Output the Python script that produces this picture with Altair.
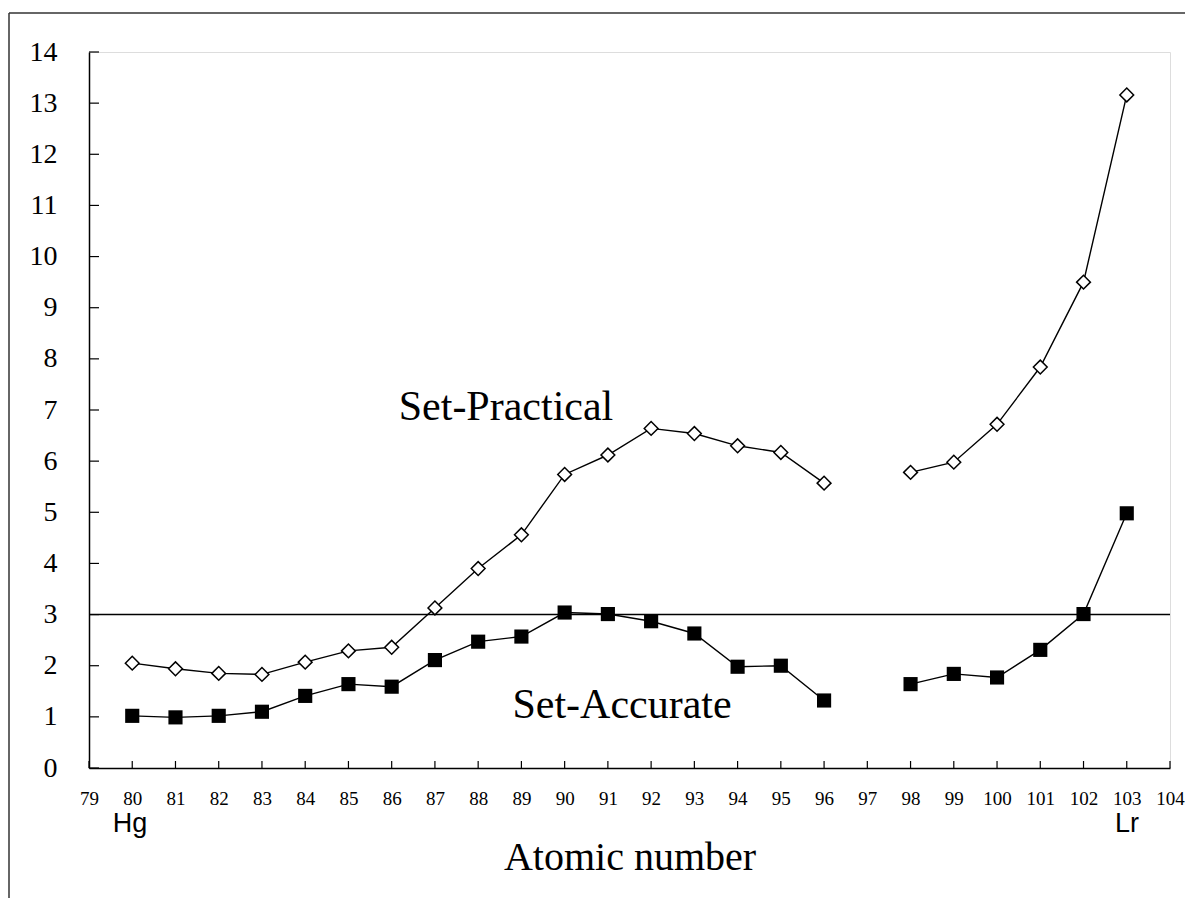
import altair as alt
import pandas as pd

# ---- data ----
atomic_number = [80, 81, 82, 83, 84, 85, 86, 87, 88, 89, 90, 91, 92, 93, 94, 95, 96,
                 98, 99, 100, 101, 102, 103]
set_practical = [2.05, 1.94, 1.85, 1.83, 2.07, 2.29, 2.36, 3.13, 3.90, 4.56, 5.74, 6.12,
                 6.64, 6.54, 6.30, 6.17, 5.57, 5.78, 5.98, 6.72, 7.84, 9.50, 13.16]
set_accurate = [1.02, 0.99, 1.02, 1.10, 1.41, 1.64, 1.59, 2.11, 2.47, 2.57, 3.04, 3.01,
                2.87, 2.63, 1.98, 2.00, 1.32, 1.64, 1.84, 1.77, 2.31, 3.01, 4.98]
x_tick_values = list(range(79, 105))
y_tick_values = list(range(0, 15))
reference_line = [3]
series_labels = ["Set-Practical", "Set-Accurate"]
element_labels = ["Hg", "Lr"]
axis_title = "Atomic number"

rows = []
for n, p, a in zip(atomic_number, set_practical, set_accurate):
    seg = "a" if n < 97 else "b"
    rows.append({"n": n, "series": "Set-Practical", "value": p, "key": "P" + seg})
    rows.append({"n": n, "series": "Set-Accurate", "value": a, "key": "A" + seg})
df = pd.DataFrame(rows)

W, H = 1081, 716
SERIF = "Liberation Serif"
SANS = "Liberation Sans"

xs = alt.Scale(domain=[79, 104], nice=False, zero=False)
ys = alt.Scale(domain=[0, 14], nice=False)

x_axis = alt.Axis(values=x_tick_values, format="d", ticks=False, grid=False,
                  labelFont=SERIF, labelFontSize=19, labelColor="black",
                  labelPadding=21, labelOverlap=False, labelFlush=False,
                  domainColor="black", domainWidth=1.5, title=None)
y_axis = alt.Axis(values=y_tick_values, format="d", ticks=False, grid=False,
                  labelFont=SERIF, labelFontSize=28, labelColor="black",
                  labelPadding=32, labelOverlap=False, labelFlush=False,
                  domainColor="black", domainWidth=1.5, title=None)

base = alt.Chart(df)

lines = base.mark_line(color="black", strokeWidth=1.4).encode(
    x=alt.X("n:Q", scale=xs, axis=x_axis),
    y=alt.Y("value:Q", scale=ys, axis=y_axis),
    detail="key:N",
)

diamonds = base.transform_filter(alt.datum.series == "Set-Practical").mark_point(
    shape="diamond", filled=True, fill="white", stroke="black", strokeWidth=1.5,
    size=190, opacity=1,
).encode(x=alt.X("n:Q", scale=xs), y=alt.Y("value:Q", scale=ys))

squares = base.transform_filter(alt.datum.series == "Set-Accurate").mark_point(
    shape="square", filled=True, color="black", size=200, opacity=1,
).encode(x=alt.X("n:Q", scale=xs), y=alt.Y("value:Q", scale=ys))

hline = alt.Chart(pd.DataFrame({"y": reference_line})).mark_rule(
    color="black", strokeWidth=1.4
).encode(y=alt.Y("y:Q", scale=ys))

# inward ticks
xticks = alt.Chart(pd.DataFrame({"t": x_tick_values})).mark_rule(
    color="black", strokeWidth=1.2
).encode(x=alt.X("t:Q", scale=xs), y=alt.value(H), y2=alt.value(H - 7))
yticks = alt.Chart(pd.DataFrame({"t": y_tick_values})).mark_rule(
    color="black", strokeWidth=1.2
).encode(y=alt.Y("t:Q", scale=ys), x=alt.value(0), x2=alt.value(10))

def label(text, x, y, font, size, baseline="alphabetic"):
    return alt.Chart(pd.DataFrame({"t": [text]})).mark_text(
        font=font, fontSize=size, color="black", align="center", baseline=baseline
    ).encode(text="t:N", x=alt.value(x), y=alt.value(y))

t_prac = label(series_labels[0], 417, 368, SERIF, 42)
t_acc = label(series_labels[1], 533, 666, SERIF, 42)
t_hg = label(element_labels[0], 41, 780, SANS, 27)
t_lr = label(element_labels[1], 1038, 780, SANS, 27)
t_title = label(axis_title, 541, 818, SERIF, 40)

# outer frame (top and left edges)
frame_top = alt.Chart(pd.DataFrame({"k": [0]})).mark_rule(color="#333", strokeWidth=1.5).encode(
    x=alt.value(-80), x2=alt.value(1200), y=alt.value(-39))
frame_left = alt.Chart(pd.DataFrame({"k": [0]})).mark_rule(color="#333", strokeWidth=1.5).encode(
    x=alt.value(-80), y=alt.value(-39), y2=alt.value(900))

chart = alt.layer(
    hline, lines, diamonds, squares, xticks, yticks,
    t_prac, t_acc, t_hg, t_lr, t_title, frame_top, frame_left,
).properties(
    width=W, height=H,
    padding={"left": 81, "top": 44, "right": 15, "bottom": 130},
    autosize=alt.AutoSizeParams(type="none"),
).configure_view(
    stroke="#888", strokeWidth=1.5
).configure(background="white")

chart.save("out.html", embed_options={"renderer": "svg", "actions": False})
